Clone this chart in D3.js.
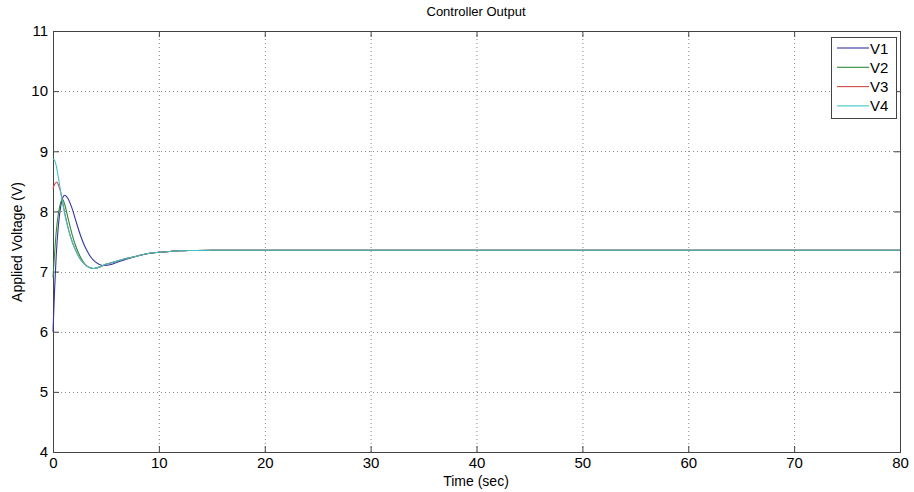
<!DOCTYPE html>
<html><head><meta charset="utf-8">
<script src="https://cdn.jsdelivr.net/npm/d3@7"></script>
<style>body{margin:0;background:#fff}svg{display:block}text{font-family:"Liberation Sans",Arial,sans-serif}</style>
</head><body><svg id="c" width="914" height="492"></svg>
<script>
const seriesNames = ["V1","V2","V3","V4"];
const seriesColors = ["#3434a0","#2f8a3a","#d04848","#3cc4c8"];
const xTicks = [0,10,20,30,40,50,60,70,80];
const yTicks = [4,5,6,7,8,9,10,11];
const V1 = [[0,6.0],[0.15,6.7],[0.3,7.25],[0.5,7.75],[0.7,8.05],[0.9,8.22],[1.1,8.27],[1.4,8.22],[1.8,8.05],[2.2,7.82],[2.6,7.6],[3.0,7.42],[3.5,7.26],[4.0,7.16],[4.5,7.11],[4.9,7.1],[5.5,7.12],[6,7.15],[7,7.21],[8,7.26],[9,7.3],[10,7.32],[11,7.335],[12,7.345],[13,7.35],[15,7.355],[80,7.355]];
const V2 = [[0,6.9],[0.15,7.3],[0.3,7.65],[0.5,7.95],[0.7,8.13],[0.9,8.2],[1.1,8.12],[1.4,7.9],[1.8,7.62],[2.2,7.4],[2.6,7.24],[3.0,7.13],[3.4,7.07],[3.8,7.05],[4.3,7.07],[5,7.12],[6,7.17],[7,7.22],[8,7.26],[9,7.3],[10,7.32],[11,7.335],[12,7.345],[13,7.35],[15,7.355],[80,7.355]];
const V3 = [[0,8.38],[0.15,8.45],[0.35,8.49],[0.55,8.42],[0.75,8.3],[0.95,8.12],[1.2,7.9],[1.5,7.68],[1.8,7.5],[2.2,7.33],[2.6,7.2],[3.0,7.12],[3.4,7.07],[3.8,7.05],[4.3,7.07],[5,7.12],[6,7.17],[7,7.22],[8,7.26],[9,7.3],[10,7.32],[11,7.335],[12,7.345],[13,7.35],[15,7.355],[80,7.355]];
const V4 = [[0,8.87],[0.15,8.85],[0.35,8.72],[0.55,8.52],[0.75,8.3],[0.95,8.1],[1.2,7.88],[1.5,7.67],[1.8,7.5],[2.2,7.33],[2.6,7.2],[3.0,7.12],[3.4,7.07],[3.8,7.05],[4.3,7.07],[5,7.12],[6,7.17],[7,7.22],[8,7.26],[9,7.3],[10,7.32],[11,7.335],[12,7.345],[13,7.35],[15,7.355],[80,7.355]];
const seriesData = [V1,V2,V3,V4];

const svg = d3.select("#c");
const L=53,R=900,T=31,B=452;
const x = d3.scaleLinear().domain([0,80]).range([L,R]);
const y = d3.scaleLinear().domain([4,11]).range([B,T]);

// grid
const g = svg.append("g");
g.selectAll(".gx").data(xTicks.slice(1,-1)).enter().append("line")
 .attr("x1",d=>x(d)+0.5).attr("x2",d=>x(d)+0.5).attr("y1",T).attr("y2",B)
 .attr("stroke","#888").attr("stroke-width",1).attr("stroke-dasharray","1,3");
g.selectAll(".gy").data(yTicks.slice(1,-1)).enter().append("line")
 .attr("y1",d=>Math.round(y(d))+0.5).attr("y2",d=>Math.round(y(d))+0.5).attr("x1",L).attr("x2",R)
 .attr("stroke","#888").attr("stroke-width",1).attr("stroke-dasharray","1,3");

// axes
const ax = svg.append("g").attr("transform",`translate(0,${B})`)
 .call(d3.axisBottom(x).tickValues(xTicks).tickSize(-6).tickPadding(5).tickFormat(d3.format("d")));
const ay = svg.append("g").attr("transform",`translate(${L},0)`)
 .call(d3.axisLeft(y).tickValues(yTicks).tickSize(-6).tickPadding(5).tickFormat(d3.format("d")));
const axT = svg.append("g").attr("transform",`translate(0,${T})`)
 .call(d3.axisTop(x).tickValues(xTicks).tickSize(-6).tickFormat(""));
const ayR = svg.append("g").attr("transform",`translate(${R},0)`)
 .call(d3.axisRight(y).tickValues(yTicks).tickSize(-6).tickFormat(""));
[ax,ay,axT,ayR].forEach(a=>{
  a.selectAll("path").attr("stroke","#444");
  a.selectAll("line").attr("stroke","#444");
  a.selectAll("text").attr("font-size","15px").attr("fill","#000");
});

// lines
const line = d3.line().x(d=>x(d[0])).y(d=>y(d[1])).curve(d3.curveMonotoneX);
seriesData.forEach((s,i)=>{
  svg.append("path").datum(s).attr("d",line).attr("fill","none")
    .attr("stroke",seriesColors[i]).attr("stroke-width",1.1);
});

// legend
const lg = svg.append("g");
lg.append("rect").attr("x",831.5).attr("y",37.5).attr("width",65).attr("height",81)
 .attr("fill","#fff").attr("stroke","#444");
seriesNames.forEach((n,i)=>{
  const yy = 48 + i*19.3;
  lg.append("line").attr("x1",837).attr("x2",869).attr("y1",yy).attr("y2",yy)
    .attr("stroke",seriesColors[i]).attr("stroke-width",1.1);
  lg.append("text").attr("x",870).attr("y",yy+5.5).attr("font-size","15px").text(n);
});

// labels
svg.append("text").attr("x",476).attr("y",16).attr("text-anchor","middle").attr("font-size","13px").text("Controller Output");
svg.append("text").attr("x",476).attr("y",486).attr("text-anchor","middle").attr("font-size","14px").text("Time (sec)");
svg.append("text").attr("transform","translate(22,242) rotate(-90)").attr("text-anchor","middle").attr("font-size","14px").text("Applied Voltage (V)");
</script></body></html>
